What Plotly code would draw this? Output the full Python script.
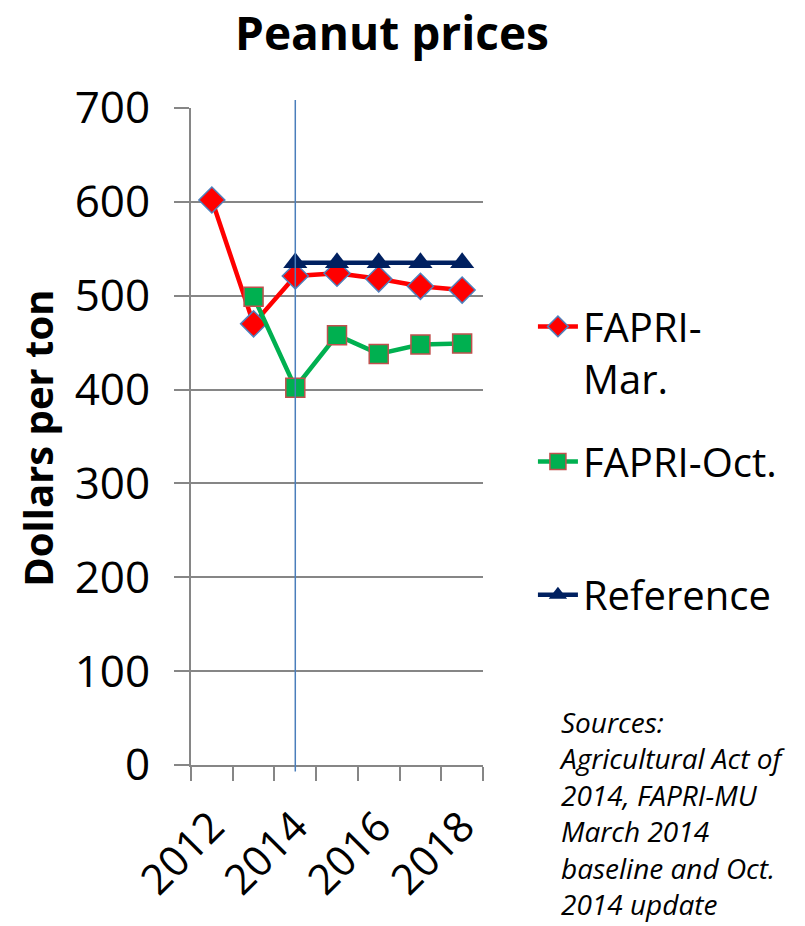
import plotly.graph_objects as go

years = [2012, 2013, 2014, 2015, 2016, 2017, 2018]
fapri_mar = [602, 470, 521, 524, 518, 510, 506]
fapri_oct = [None, 499, 402, 458, 438, 448, 449]
reference = [None, None, 535, 535, 535, 535, 535]
year_ticks = [2012, 2014, 2016, 2018]
policy_year = 2014

FONT = "Open Sans"

fig = go.Figure()
fig.add_trace(go.Scatter(
    x=years, y=fapri_mar, name="FAPRI-<br>Mar.", mode="lines+markers",
    line=dict(color="#FF0000", width=4.5),
    marker=dict(symbol="diamond", size=20, color="#FF0000",
                line=dict(color="#4F81BD", width=1.5)),
    legend="legend"))
fig.add_trace(go.Scatter(
    x=years, y=fapri_oct, name="FAPRI-Oct.", mode="lines+markers",
    line=dict(color="#00B050", width=4.5),
    marker=dict(symbol="square", size=19, color="#00B050",
                line=dict(color="#C0504D", width=1.5)),
    legend="legend2"))
fig.add_trace(go.Scatter(
    x=years, y=reference, name="Reference", mode="lines+markers",
    line=dict(color="#002060", width=4.5),
    marker=dict(symbol="triangle-up", size=21, color="#002060"),
    legend="legend3"))

fig.add_shape(type="line", xref="x", yref="paper", x0=policy_year, x1=policy_year,
              y0=-0.01, y1=1.012, line=dict(color="#4A7EBB", width=1.5), layer="above")

leg_common = dict(font=dict(family=FONT, size=40, color="#000000"),
                  bgcolor="rgba(0,0,0,0)", borderwidth=0, xanchor="left",
                  yanchor="middle", valign="top", itemwidth=40,
                  xref="paper", yref="paper")

fig.update_layout(
    width=805, height=926,
    margin=dict(l=191, r=322, t=108, b=161),
    paper_bgcolor="white", plot_bgcolor="white",
    showlegend=True,
    xaxis=dict(range=[2011.5, 2018.5], tickmode="array", tickvals=year_ticks,
               ticktext=[str(t) for t in year_ticks], ticks="", tickangle=-45,
               tickfont=dict(family=FONT, size=42, color="#000000"),
               showgrid=False, zeroline=False, showline=True,
               linecolor="#868686", linewidth=2,
               minor=dict(tick0=2011.5, dtick=1, ticks="outside", ticklen=14,
                          tickcolor="#868686", tickwidth=2, showgrid=False),
               ticklabelstandoff=18),
    yaxis=dict(range=[0, 700], tickmode="linear", tick0=0, dtick=100,
               ticks="outside", ticklen=15, tickcolor="#868686", tickwidth=2,
               tickfont=dict(family=FONT, size=44, color="#000000"),
               showgrid=True, gridcolor="#868686", gridwidth=2,
               zeroline=False, showline=True, linecolor="#868686", linewidth=2,
               ticklabelstandoff=15),
    legend=dict(x=1.171, y=0.628, **leg_common),
    legend2=dict(x=1.171, y=0.462, **leg_common),
    legend3=dict(x=1.171, y=0.259, **leg_common),
    annotations=[
        dict(text="<b>Peanut prices</b>", xref="paper", yref="paper",
             x=(392 - 191) / 292, y=1 + (108 - 32) / 657, xanchor="center", yanchor="middle",
             showarrow=False, font=dict(family=FONT, size=46, color="#000000")),
        dict(text="<b>Dollars per ton</b>", textangle=-90, xref="paper", yref="paper",
             x=-0.524, y=0.498, xanchor="center", yanchor="middle", showarrow=False,
             font=dict(family=FONT, size=40, color="#000000")),
        dict(text="<i>Sources:<br>Agricultural Act of<br>2014, FAPRI-MU<br>March 2014<br>baseline and Oct.<br>2014 update</i>",
             xref="paper", yref="paper", x=1.255, y=0.098, xanchor="left", yanchor="top",
             align="left", showarrow=False,
             font=dict(family=FONT, size=28, color="#000000")),
    ],
)

fig.write_html("out.html", config={"displayModeBar": False},
               post_script="document.body.style.margin='0px';")
